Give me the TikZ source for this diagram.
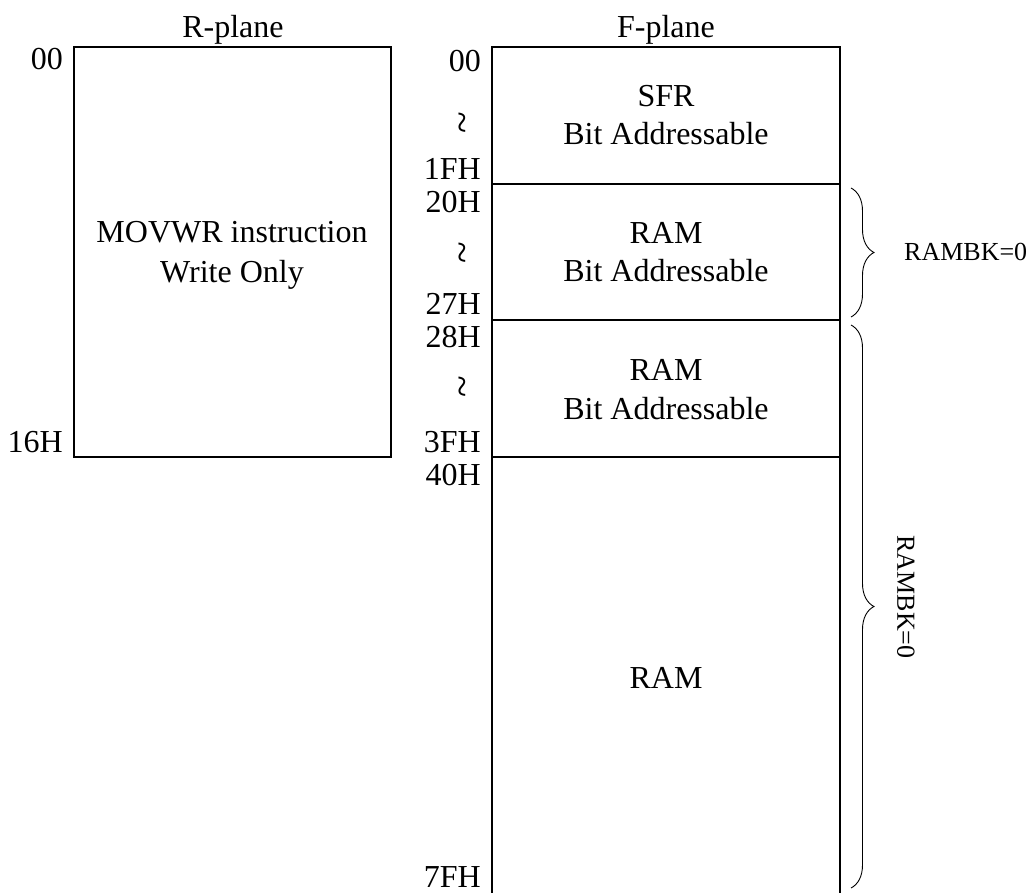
\documentclass[tikz,border=0pt]{standalone}
\usepackage{fontspec}
\setmainfont{Liberation Serif}
\usetikzlibrary{decorations.pathreplacing}
\begin{document}
\begin{tikzpicture}[x=1pt,y=-1pt,
  txt/.style={font=\fontsize{32}{38}\selectfont, inner sep=0pt, anchor=base},
  addr/.style={font=\fontsize{32}{38}\selectfont, inner sep=0pt, anchor=base east},
  wig/.style={font=\fontsize{40}{44}\selectfont, inner sep=0pt, rotate=90},
  bk/.style={font=\fontsize{26}{30}\selectfont, inner sep=0pt},
  boxline/.style={line width=1.8pt},
  brc/.style={line width=0.9pt, decorate, decoration={brace, amplitude=23pt}}]
\useasboundingbox (0,0) rectangle (1034,893);
% R-plane
\node[txt] (rtitle) at (233,38) {R-plane};
\draw[boxline] (74,47) rectangle (391,457);
\node[addr] (r00) at (63,70) {00};
\node[addr] (r16) at (63,452) {16H};
\node[txt] (movwr) at (232,243) {MOVWR instruction};
\node[txt] (wonly) at (232,283) {Write Only};
% F-plane
\node[txt] (ftitle) at (666,38) {F-plane};
\draw[boxline] (492,900) -- (492,47) -- (840,47) -- (840,900);
\draw[boxline] (492,184) -- (840,184);
\draw[boxline] (492,320) -- (840,320);
\draw[boxline] (492,457) -- (840,457);
\node[addr] (f00) at (481,72) {00};
\node[wig] (w1) at (467,123) {\char`\~};
\node[addr] (f1f) at (481,180) {1FH};
\node[addr] (f20) at (481,213) {20H};
\node[wig] (w2) at (467,253) {\char`\~};
\node[addr] (f27) at (481,315) {27H};
\node[addr] (f28) at (481,348) {28H};
\node[wig] (w3) at (467,387) {\char`\~};
\node[addr] (f3f) at (481,452) {3FH};
\node[addr] (f40) at (481,485) {40H};
\node[addr] (f7f) at (481,887) {7FH};
\node[txt] (sfr) at (666,107) {SFR};
\node[txt] (ba1) at (666,145) {Bit Addressable};
\node[txt] (ram1) at (666,244) {RAM};
\node[txt] (ba2) at (666,282) {Bit Addressable};
\node[txt] (ram2) at (666,381) {RAM};
\node[txt] (ba3) at (666,419) {Bit Addressable};
\node[txt] (ram3) at (666,688) {RAM};
% braces
\coordinate (b1t) at (851,188);
\coordinate (b1b) at (851,317);
\coordinate (b2t) at (851,325);
\coordinate (b2b) at (851,888);
\draw[brc] (b1t) -- (b1b);
\draw[brc] (b2t) -- (b2b);
\node[bk, anchor=west] (bk1) at (904,252) {RAMBK=0};
\node[bk, rotate=-90] (bk2) at (906,597) {RAMBK=0};
\end{tikzpicture}
\end{document}
